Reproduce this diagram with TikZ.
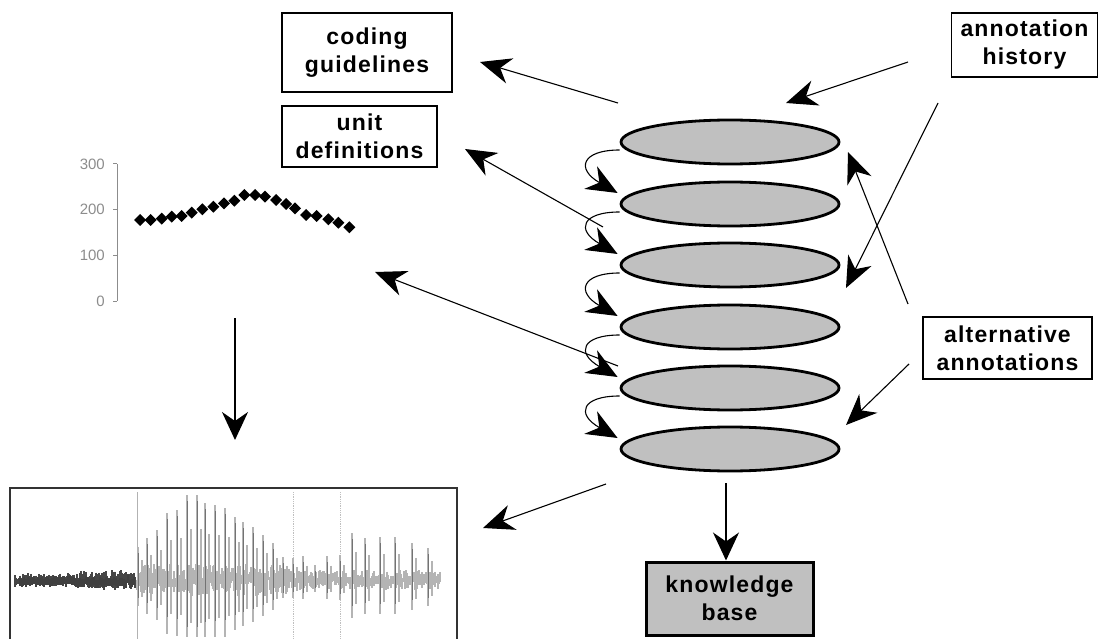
\documentclass[tikz,border=0pt]{standalone}
\usepackage{fontspec}
\setmainfont{Liberation Sans}
\newfontfamily\labfont[LetterSpace=5]{Liberation Sans}
\newfontfamily\tickfont{Liberation Sans}
\usetikzlibrary{arrows.meta,shapes.geometric,calc}
\definecolor{diskgray}{RGB}{192,192,192}
\definecolor{axisgray}{RGB}{140,140,140}
\definecolor{wavedark}{RGB}{70,70,70}
\definecolor{wavelight}{RGB}{180,180,180}
\definecolor{wavemid}{RGB}{115,115,115}
\begin{document}
\begin{tikzpicture}[x=1pt,y=-1pt,
  lab/.style={draw=black,line width=1.6pt,fill=white,align=center,inner sep=0pt,
    font=\labfont\bfseries\fontsize{23}{28}\selectfont},
  disk/.style={ellipse,draw=black,line width=2.8pt,fill=diskgray,minimum width=218pt,minimum height=44pt,inner sep=0pt},
  arr/.style={-{Stealth[length=31pt,width=26pt,inset=10pt]},line width=1.1pt},
  varr/.style={-{Stealth[length=28pt,width=26pt,inset=9pt]},line width=1.4pt},
  dot/.style={fill=black},
  tick/.style={font=\tickfont\fontsize{15}{15}\selectfont,text=axisgray,anchor=east,inner sep=0pt}
]
\useasboundingbox (0,0) rectangle (1098,639);

% ---------- label boxes ----------
\node[lab,minimum width=170pt,minimum height=79pt] (coding) at (367,52.5) {coding\\guidelines};
\node[lab,minimum width=155pt,minimum height=61pt] (unit) at (359.5,136.5) {unit\\definitions};
\node[lab,minimum width=146pt,minimum height=64pt] (hist) at (1024.5,45) {annotation\\history};
\node[lab,minimum width=169pt,minimum height=62pt] (alt) at (1007.5,348) {alternative\\annotations};
\node[lab,line width=3pt,fill=diskgray,minimum width=167pt,minimum height=73pt] (kb) at (729.5,598.5) {knowledge\\base};

% ---------- stack of annotations ----------
\node[disk] (e1) at (730,142) {};
\node[disk] (e2) at (730,204) {};
\node[disk] (e3) at (730,265) {};
\node[disk] (e4) at (730,327) {};
\node[disk] (e5) at (730,388) {};
\node[disk] (e6) at (730,449) {};

\foreach \a/\b in {e1/e2,e2/e3,e3/e4,e4/e5,e5/e6}{
  \draw[arr] ($(\a.west)+(0,8)$) .. controls +(-38,0) and +(-42,-24) .. ($(\b.west)+(-2,-11)$);
}

% ---------- plot ----------
\draw[axisgray,line width=1pt] (117,164) -- (117,301);
\foreach \y/\t in {164/300,209.7/200,255.3/100,301/0}{
  \draw[axisgray,line width=1pt] (113,\y) -- (117,\y);
  \node[tick] (t\t) at (105,\y) {\t};
}
\foreach \x/\y in {140/220,150.7/220,161.7/218.7,171.7/216.7,181.7/216,191.7/212.7,202.3/209.3,213.3/206.7,224/203.3,234.3/200.7,244.3/195,255/195,265/196.7,276/200,286/204,295/208.3,306/215,316.7/216,328.3/219.3,338.3/222.7,349.3/227.3}{
  \fill[dot] (\x-6,\y) -- (\x,\y-6) -- (\x+6,\y) -- (\x,\y+6) -- cycle;
}

% ---------- waveform ----------
\draw[black!80,line width=2.4pt] (10,645) -- (10,488) -- (457,488) -- (457,645);
\draw[gray!60,line width=1pt] (137,492) -- (137,639);
\draw[gray!50,line width=0.8pt,densely dotted] (293,492) -- (293,639);
\draw[gray!50,line width=0.8pt,densely dotted] (340,492) -- (340,639);
\pgfmathsetseed{11}
\foreach \x in {15,16,...,135}{
  \pgfmathsetmacro{\am}{\x>80 ? 10 : 7}
  \pgfmathsetmacro{\u}{580-\am*rnd}
  \pgfmathsetmacro{\d}{580+\am*rnd}
  \draw[wavedark,line width=1.1pt] (\x,\u) -- (\x,\d);
}
\foreach \x in {137,138,...,440}{
  \pgfmathsetmacro{\am}{\x<290 ? 16 : 10}
  \pgfmathsetmacro{\u}{580-\am*rnd}
  \pgfmathsetmacro{\d}{580+\am*rnd}
  \draw[wavelight,line width=1.1pt] (\x,\u) -- (\x,\d);
}
\foreach \x/\t in {138/547,147/538,157/530,167/513,177/510,187/495,197/495,205/503,215/505,225/508,235/517,243/522,253/527,263/535,273/543,283/557,293/558,303/556,315/565,327/556,340/555,352/533,365/538,380/537,395/537,412/543,428/548}{
  \pgfmathsetmacro{\bt}{min(637,580+0.8*(580-\t))}
  \pgfmathsetmacro{\tb}{580-0.6*(580-\t)}
  \pgfmathsetmacro{\bb}{580+0.5*(580-\t)}
  \draw[wavelight,line width=2.2pt] (\x,\t) -- (\x,\bt);
  \draw[wavelight,line width=1.6pt] (\x+4,\tb) -- (\x+4,\bb);
  \draw[wavemid,line width=0.9pt] (\x,{\t+6}) -- (\x,{580+0.55*(580-\t)});
}
\foreach \x in {20,22,...,134}{
  \pgfmathsetmacro{\u}{580-5*rnd}
  \draw[black!75,line width=1.5pt] (\x,\u) -- (\x,{\u+8});
}

% ---------- connectors ----------
\coordinate (c1) at (618,103);
\coordinate (c1t) at (480,62);
\draw[arr] (c1) -- (c1t);

\coordinate (u1) at (603,227);
\coordinate (u1t) at (465,149);
\draw[arr] (u1) -- (u1t);

\coordinate (p1) at (618,366);
\coordinate (p1t) at (375,272);
\draw[arr] (p1) -- (p1t);

\coordinate (h1) at (908,62);
\coordinate (h1t) at (786,103);
\draw[arr] (h1) -- (h1t);

\coordinate (h2) at (938,103);
\coordinate (h2t) at (846,288);
\draw[arr] (h2) -- (h2t);

\coordinate (a1) at (908,304);
\coordinate (a1t) at (848,152);
\draw[arr] (a1) -- (a1t);

\coordinate (a2) at (909,364);
\coordinate (a2t) at (846,425);
\draw[arr] (a2) -- (a2t);

\coordinate (w1) at (606,484);
\coordinate (w1t) at (483,528);
\draw[arr] (w1) -- (w1t);

\coordinate (k1) at (726,483);
\draw[varr] (k1) -- (k1 |- kb.north);

\coordinate (d1) at (235,318);
\coordinate (d1t) at (235,440);
\draw[varr] (d1) -- (d1t);
\end{tikzpicture}
\end{document}
